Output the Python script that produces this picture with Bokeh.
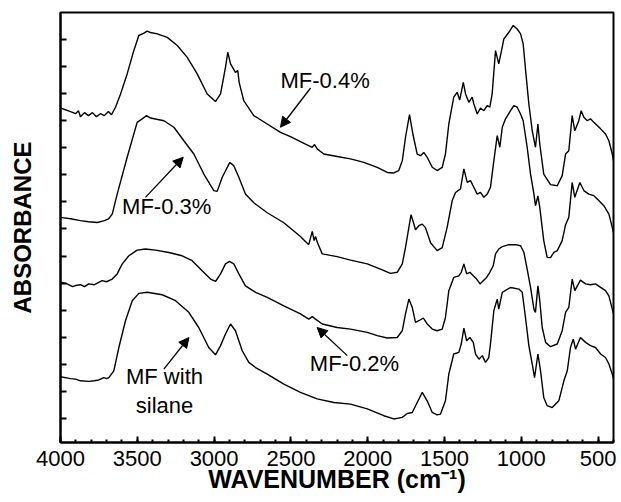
from bokeh.plotting import figure
from bokeh.models import Range1d, FixedTicker, LinearAxis, Label, Arrow, NormalHead
from bokeh.embed import file_html
from bokeh.resources import INLINE

# ---------------- data (wavenumber cm^-1, absorbance offset units) -------------
x_major_ticks = [4000, 3500, 3000, 2500, 2000, 1500, 1000, 500]
x_minor_ticks = list(range(400, 4001, 100))
y_ticks = list(range(1, 16))

mf04_wn = [4000, 3935, 3902, 3883, 3870, 3844, 3818, 3792, 3766, 3740, 3714, 3688, 3668, 3642,
           3609, 3566, 3523, 3490, 3460, 3436, 3414, 3370, 3305, 3240, 3175, 3110, 3045, 2991,
           2958, 2926, 2911, 2893, 2861, 2846, 2837, 2807, 2742, 2654, 2568, 2503, 2405, 2361,
           2346, 2329, 2286, 2199, 2112, 2025, 1938, 1873, 1830, 1798, 1775, 1754, 1728, 1706,
           1678, 1656, 1635, 1613, 1580, 1548, 1515, 1494, 1472, 1440, 1418, 1401, 1378, 1363,
           1342, 1320, 1309, 1287, 1266, 1244, 1222, 1205, 1190, 1168, 1147, 1129, 1114, 1081,
           1053, 1027, 1005, 988, 973, 951, 929, 908, 892, 880, 854, 810, 766, 734, 712, 691,
           669, 652, 626, 610, 593, 571, 550, 528, 506, 484, 452, 430, 408, 400]
mf04_abs = [12.47, 12.34, 12.26, 12.37, 12.15, 12.30, 12.19, 12.30, 12.15, 12.26, 12.19, 12.34, 12.22, 12.50,
            12.99, 13.73, 14.59, 15.15, 15.23, 15.31, 15.26, 15.21, 15.08, 14.78, 14.34, 13.73, 12.99, 12.71,
            12.99, 13.97, 14.53, 14.10, 13.79, 13.85, 13.42, 12.74, 12.19, 11.88, 11.57, 11.41, 11.14, 11.02,
            11.12, 10.96, 10.77, 10.68, 10.59, 10.46, 10.28, 10.09, 10.07, 10.16, 10.52, 11.39, 12.23, 11.51,
            10.77, 10.71, 10.83, 10.65, 10.28, 10.16, 10.28, 10.77, 11.88, 12.87, 13.05, 12.77, 13.42, 12.99,
            12.68, 12.87, 12.62, 12.25, 12.47, 12.37, 12.56, 12.50, 12.99, 14.59, 14.10, 14.59, 15.02, 15.27,
            15.52, 15.39, 15.21, 14.84, 13.91, 12.62, 11.63, 11.02, 11.88, 11.14, 10.03, 9.64, 9.60, 9.97, 10.77, 10.89,
            12.19, 11.63, 12.00, 12.37, 12.13, 12.00, 12.07, 11.94, 11.82, 11.70, 11.51, 11.26, 10.77, 10.52]

mf03_wn = [4000, 3935, 3870, 3818, 3761, 3714, 3688, 3663, 3631, 3566, 3501, 3468, 3440, 3414,
           3327, 3262, 3197, 3132, 3067, 3002, 2980, 2947, 2898, 2872, 2839, 2796, 2742, 2654,
           2546, 2438, 2384, 2361, 2349, 2340, 2327, 2296, 2199, 2112, 2003, 1917, 1852, 1808,
           1775, 1754, 1732, 1718, 1702, 1689, 1667, 1645, 1624, 1591, 1548, 1515, 1483, 1450,
           1428, 1396, 1374, 1352, 1331, 1309, 1287, 1266, 1244, 1222, 1201, 1179, 1157, 1140,
           1124, 1103, 1070, 1049, 1027, 1005, 988, 962, 940, 918, 908, 892, 880, 854, 832, 810,
           788, 766, 734, 712, 691, 669, 652, 619, 593, 561, 528, 496, 463, 430, 408, 400]
mf03_abs = [8.43, 8.38, 8.31, 8.27, 8.24, 8.31, 8.37, 8.55, 9.29, 10.65, 11.94, 12.07, 12.19, 12.10,
            12.00, 11.76, 11.26, 10.77, 10.03, 9.42, 9.39, 9.91, 10.46, 10.34, 9.91, 9.29, 8.97, 8.60,
            8.23, 7.72, 7.42, 7.91, 7.57, 7.72, 7.49, 7.08, 6.98, 6.85, 6.71, 6.52, 6.36, 6.40,
            6.71, 7.32, 8.06, 8.53, 8.23, 7.97, 8.12, 8.18, 8.05, 7.49, 7.20, 7.31, 8.06, 9.05,
            9.35, 9.48, 10.22, 9.72, 9.79, 9.54, 9.29, 9.35, 9.17, 9.29, 9.54, 10.52, 11.45, 11.02,
            11.76, 12.07, 12.37, 12.56, 12.50, 12.25, 12.00, 11.02, 10.03, 9.29, 8.86, 9.22, 8.80, 7.57, 6.95, 6.94,
            7.14, 7.20, 7.57, 8.16, 8.43, 9.72, 9.17, 9.72, 9.42, 9.29, 9.23, 9.05, 8.86, 8.55, 8.06, 7.86]

mf02_wn = [4000, 3961, 3922, 3902, 3870, 3844, 3816, 3779, 3729, 3701, 3663, 3631, 3598, 3555,
           3501, 3447, 3382, 3295, 3208, 3143, 3078, 3023, 2991, 2958, 2926, 2900, 2872, 2839,
           2796, 2730, 2654, 2546, 2438, 2384, 2361, 2340, 2296, 2199, 2112, 2003, 1938, 1873,
           1808, 1775, 1754, 1732, 1710, 1689, 1667, 1638, 1613, 1580, 1548, 1515, 1494, 1472,
           1440, 1407, 1391, 1374, 1356, 1335, 1313, 1291, 1269, 1248, 1226, 1205, 1183, 1168,
           1147, 1124, 1081, 1038, 1005, 983, 962, 940, 918, 908, 892, 880, 864, 842, 810, 766,
           734, 712, 691, 669, 652, 615, 582, 550, 517, 484, 452, 430, 408, 400]
mf02_abs = [6.03, 5.98, 5.87, 5.91, 5.94, 5.87, 5.97, 5.94, 6.09, 6.05, 6.15, 6.34, 6.71, 7.01,
            7.22, 7.26, 7.22, 7.13, 7.01, 6.83, 6.46, 6.15, 6.06, 6.34, 6.71, 6.80, 6.71, 6.34,
            5.90, 5.66, 5.47, 5.16, 4.86, 4.67, 4.76, 4.67, 4.49, 4.36, 4.30, 4.18, 4.06, 3.97,
            3.99, 4.24, 4.86, 5.41, 5.10, 4.55, 4.61, 4.71, 4.49, 4.30, 4.24, 4.30, 4.73, 5.72,
            6.21, 6.27, 6.40, 6.71, 6.34, 6.40, 6.27, 6.15, 5.97, 6.09, 6.21, 6.40, 6.64, 7.08,
            7.26, 7.35, 7.42, 7.42, 7.38, 7.13, 6.52, 5.84, 5.04, 4.92, 5.90, 5.35, 4.36, 3.81, 3.65, 3.75,
            4.24, 4.92, 5.10, 6.15, 5.72, 6.11, 5.97, 5.94, 5.97, 5.84, 5.72, 5.53, 5.04, 4.87]

silane_wn = [4000, 3961, 3935, 3902, 3870, 3816, 3779, 3751, 3718, 3701, 3685, 3653, 3620, 3577,
             3533, 3490, 3436, 3338, 3251, 3165, 3100, 3035, 2991, 2958, 2926, 2893, 2861, 2817,
             2774, 2730, 2654, 2546, 2438, 2329, 2220, 2112, 2003, 1895, 1830, 1775, 1743, 1710,
             1678, 1645, 1613, 1580, 1548, 1526, 1494, 1472, 1440, 1407, 1391, 1374, 1356, 1335,
             1313, 1298, 1276, 1254, 1233, 1212, 1201, 1179, 1157, 1147, 1124, 1070, 1016, 994,
             973, 951, 929, 914, 892, 875, 854, 832, 799, 756, 723, 701, 680, 662, 647, 615, 582,
             550, 517, 484, 452, 430, 408, 400]
silane_abs = [2.54, 2.50, 2.47, 2.45, 2.39, 2.37, 2.39, 2.42, 2.51, 2.47, 2.51, 2.76, 3.62, 4.61,
              5.35, 5.62, 5.66, 5.57, 5.35, 4.92, 4.36, 3.62, 3.35, 3.69, 4.12, 4.49, 4.24, 3.50,
              3.07, 2.88, 2.64, 2.27, 1.96, 1.72, 1.59, 1.53, 1.35, 1.10, 0.98, 1.04, 1.18, 1.22,
              1.59, 1.96, 1.65, 1.22, 1.13, 1.16, 1.65, 2.64, 3.38, 3.44, 3.75, 4.34, 3.87, 3.99,
              3.81, 3.38, 3.19, 3.32, 3.07, 3.25, 3.75, 4.98, 5.41, 5.04, 5.66, 5.84, 5.78, 5.66,
              4.73, 3.69, 3.01, 2.51, 3.38, 2.76, 1.77, 1.47, 1.40, 1.65, 2.39, 2.76, 3.62, 3.93, 3.56, 3.99, 3.81,
              3.69, 3.62, 3.38, 3.25, 3.01, 2.64, 2.47]

# ---------------- figure -------------------------------------------------------
FONT = "Liberation Sans"

p = figure(width=620, height=501,
           x_range=Range1d(4000, 400), y_range=Range1d(0.11, 16.0),
           output_backend="svg", toolbar_location=None,
           x_axis_location=None, y_axis_location=None,
           min_border_left=60, min_border_right=7, min_border_top=12, min_border_bottom=59,
           background_fill_color="white", border_fill_color="white")
p.grid.visible = False
p.outline_line_color = "black"
p.outline_line_width = 2

xaxis = LinearAxis(ticker=FixedTicker(ticks=x_major_ticks, minor_ticks=x_minor_ticks),
                   axis_label="WAVENUMBER (cm⁻¹)")
xaxis.axis_line_width = 2
xaxis.major_tick_in = 6
xaxis.major_tick_out = 0
xaxis.minor_tick_in = 3
xaxis.minor_tick_out = 0
xaxis.major_tick_line_width = 2
xaxis.minor_tick_line_width = 2
xaxis.major_label_text_font = FONT
xaxis.major_label_text_font_size = "22px"
xaxis.major_label_text_color = "black"
xaxis.major_label_standoff = 8
xaxis.axis_label_text_font = FONT
xaxis.axis_label_text_font_size = "25px"
xaxis.axis_label_text_font_style = "bold"
xaxis.axis_label_text_color = "black"
xaxis.axis_label_standoff = -4
p.add_layout(xaxis, "below")

yaxis = LinearAxis(ticker=FixedTicker(ticks=y_ticks, minor_ticks=[]),
                   axis_label="ABSORBANCE")
yaxis.axis_line_width = 2
yaxis.major_tick_in = 6
yaxis.major_tick_out = 0
yaxis.major_tick_line_width = 2
yaxis.major_label_text_font_size = "0px"
yaxis.major_label_text_color = None
yaxis.major_label_standoff = 0
yaxis.axis_label_text_font = FONT
yaxis.axis_label_text_font_size = "24px"
yaxis.axis_label_text_font_style = "bold"
yaxis.axis_label_text_color = "black"
yaxis.axis_label_standoff = 25
p.add_layout(yaxis, "left")

# ---------------- spectra ------------------------------------------------------
for wn, ab in [(mf04_wn, mf04_abs), (mf03_wn, mf03_abs), (mf02_wn, mf02_abs), (silane_wn, silane_abs)]:
    p.line(wn, ab, line_color="black", line_width=1.4)

# ---------------- annotations --------------------------------------------------
def add_text(x, y, txt, align="left"):
    p.add_layout(Label(x=x, y=y, text=txt, text_font=FONT, text_font_size="22px",
                       text_color="black", text_align=align, text_baseline="middle"))

def add_arrow(x0, y0, x1, y1):
    p.add_layout(Arrow(x_start=x0, y_start=y0, x_end=x1, y_end=y1,
                       line_color="black", line_width=1.3,
                       end=NormalHead(size=10, fill_color="black", line_color="black", line_width=1)))

add_text(2568, 13.50, "MF-0.4%")
add_arrow(2372, 13.21, 2568, 11.76)

add_text(3599, 8.84, "MF-0.3%")
add_arrow(3447, 9.17, 3201, 10.65)

add_text(3323, 2.54, "MF with", align="center")
add_text(3323, 1.48, "silane", align="center")
add_arrow(3327, 2.82, 3164, 3.99)

add_text(2377, 3.02, "MF-0.2%")
add_arrow(2133, 3.32, 2329, 4.36)

open("out.html", "w").write(file_html(p, INLINE))
